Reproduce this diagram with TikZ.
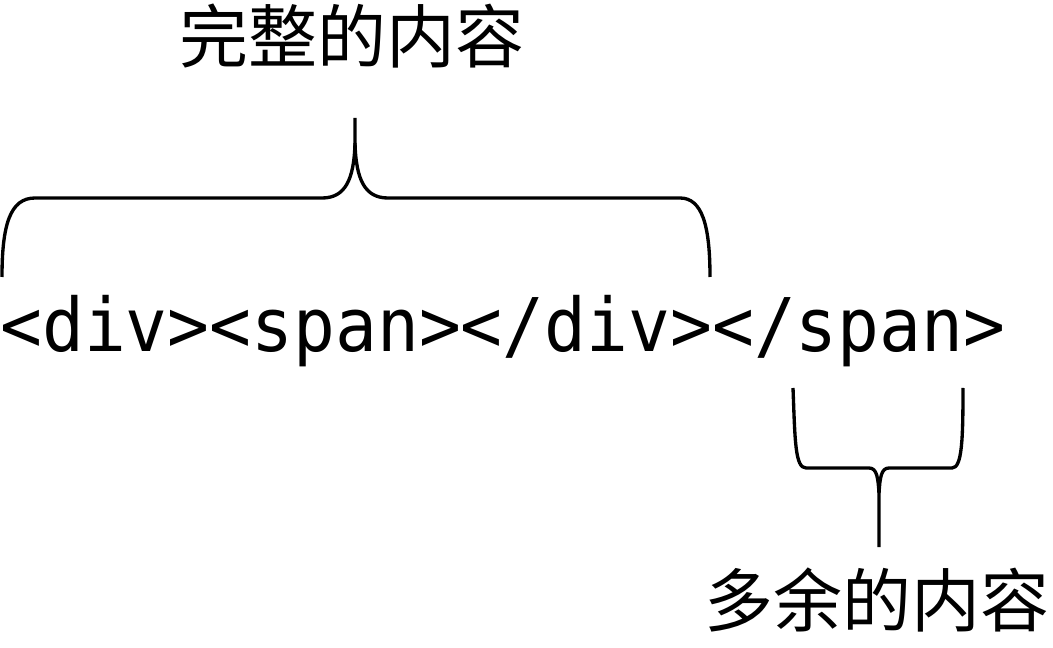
\documentclass[tikz,border=0pt]{standalone}
\usepackage{fontspec}
\newfontfamily\cjkfont{Noto Sans CJK SC}
\newfontfamily\codefont{DejaVu Sans Mono}
\begin{document}
\begin{tikzpicture}[x=0.75pt,y=-0.75pt,
  bracepath/.style={line width=2.5pt,line cap=butt,line join=round},
  cjklabel/.style={font=\cjkfont\fontsize{51.75}{56}\selectfont,inner sep=0pt,anchor=base},
  codetext/.style={font=\codefont\fontsize{55.5}{60}\selectfont,inner sep=0pt,anchor=base west}]
\useasboundingbox (0,0) rectangle (1053,648);
% labels
\node[cjklabel] (whole) at (352,63) {完整的内容};
\node[cjklabel] (extra) at (877,626) {多余的内容};
\node[codetext] (code) at (0,352) {\scalebox{0.94}[1]{<div><span></div></span>}};
% top brace
\coordinate (tl) at (2,277);
\coordinate (tr) at (710,277);
\coordinate (tt) at (355,118);
\coordinate (tm) at (355,143);
\draw[bracepath] (tl) .. controls (2,225) and (10,198) .. (35,198) -- (322,198)
  .. controls (345,198) and (354,180) .. (tm) -- (tt);
\draw[bracepath] (tm) .. controls (356,180) and (365,198) .. (388,198) -- (680,198)
  .. controls (702,198) and (710,225) .. (tr);
% bottom brace
\coordinate (bl) at (793,388);
\coordinate (br) at (963,388);
\coordinate (bm) at (879,493);
\coordinate (bt) at (879,547);
\draw[bracepath] (bl) .. controls (795,440) and (795,468) .. (806,468) -- (869,468)
  .. controls (877,468) and (878,478) .. (bm) -- (bt);
\draw[bracepath] (bm) .. controls (880,478) and (881,468) .. (889,468) -- (952,468)
  .. controls (962,468) and (963,440) .. (br);
\end{tikzpicture}
\end{document}
